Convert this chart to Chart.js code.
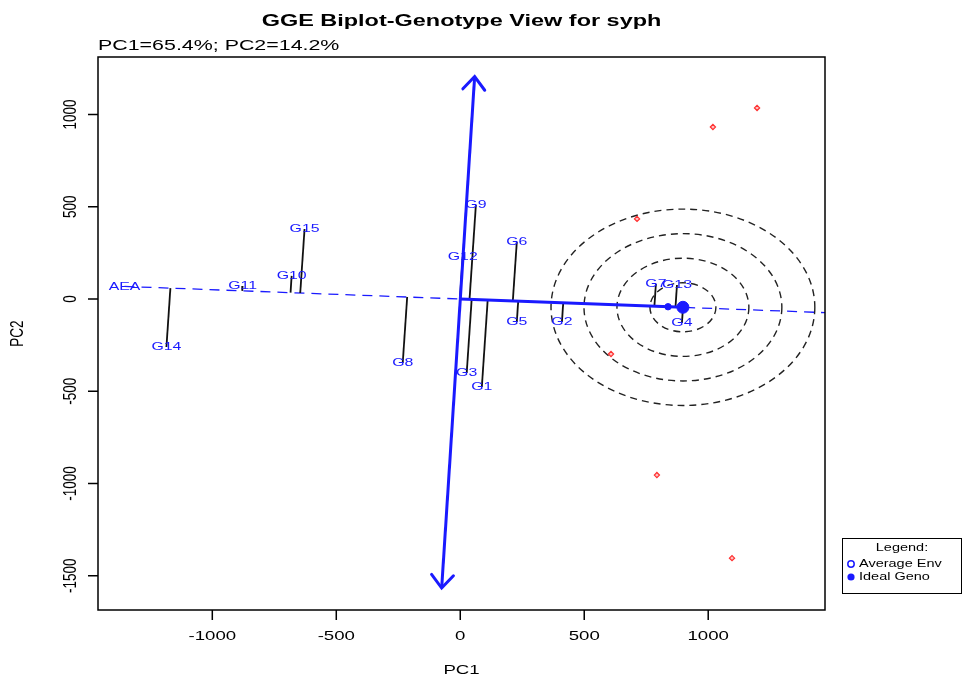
<!DOCTYPE html>
<html>
<head>
<meta charset="utf-8">
<script src="https://cdn.jsdelivr.net/npm/chart.js@4.4.1/dist/chart.umd.min.js"></script>
<style>
  html, body { margin: 0; padding: 0; background: #fff; }
  #wrap { width: 963px; height: 677px; }
</style>
</head>
<body>
<div id="wrap"><canvas id="biplot" width="963" height="677"></canvas></div>
<script>
// genotypes (label position = genotype score)
const genoNames = ['G1', 'G2', 'G3', 'G4', 'G5', 'G6', 'G7', 'G8', 'G9', 'G10', 'G11', 'G12', 'G13', 'G14', 'G15'];
const genoPC1 = [87, 410, 26, 894, 228, 228, 789, -232, 63, -680, -878, 10, 874, -1185, -628];
const genoPC2 = [-477, -125, -401, -130, -125, 309, 81, -347, 509, 125, 70, 228, 76, -260, 379];

// environments (small red markers)
const envPC1 = [1197, 1019, 713, 608, 793, 1096];
const envPC2 = [1035, 932, 434, -298, -954, -1404];

// average environment axis
const aeaPC1 = [-1354, 1471];
const aeaPC2 = [68, -74];
const avgEnv = [838, -42];
const idealGeno = [898, -45];
const circleRadii = [133, 266, 399, 532];

// axis perpendicular to AEA (double arrow)
const arrowPC1 = [-75, 58];
const arrowPC2 = [-1566, 1205];

const xTicks = [-1000, -500, 0, 500, 1000];
const yTicks = [1000, 500, 0, -500, -1000, -1500];

const SX = 1.38; // the picture is stretched sideways
const BLUE = '#1a1aff';
const FONT = '"Liberation Sans", Arial, sans-serif';

function txt(ctx, s, x, y, size, color, align, bold, rot) {
    ctx.save();
    ctx.translate(x, y);
    if (rot) { ctx.rotate(-Math.PI / 2); ctx.scale(1, SX); } else { ctx.scale(SX, 1); }
    ctx.font = (bold ? 'bold ' : '') + size + 'px ' + FONT;
    ctx.fillStyle = color;
    ctx.textAlign = align;
    ctx.textBaseline = 'middle';
    ctx.fillText(s, 0, 0);
    ctx.restore();
}

// projection of each genotype on the AEA line
const dLen = Math.hypot(idealGeno[0], idealGeno[1]);
const ux = idealGeno[0] / dLen, uy = idealGeno[1] / dLen;
const projSets = genoNames.map((g, i) => {
    const t = genoPC1[i] * ux + genoPC2[i] * uy;
    return {
        type: 'line',
        data: [{ x: genoPC1[i], y: genoPC2[i] }, { x: t * ux, y: t * uy }],
        borderColor: '#111', borderWidth: 1.8, pointRadius: 0, order: 6
    };
});

const extras = {
    id: 'extras',
    beforeDatasetsDraw(chart) {
        const { ctx, scales: { x, y } } = chart;
        const a = chart.chartArea;
        ctx.save();
        ctx.beginPath();
        ctx.rect(a.left, a.top, a.right - a.left, a.bottom - a.top);
        ctx.clip();
        ctx.strokeStyle = '#222';
        ctx.lineWidth = 1.4;
        ctx.setLineDash([7, 5]);
        const cx = x.getPixelForValue(idealGeno[0]);
        const cy = y.getPixelForValue(idealGeno[1]);
        circleRadii.forEach(r => {
            const rx = x.getPixelForValue(idealGeno[0] + r) - cx;
            const ry = cy - y.getPixelForValue(idealGeno[1] + r);
            ctx.beginPath();
            ctx.ellipse(cx, cy, rx, ry, 0, 0, Math.PI * 2);
            ctx.stroke();
        });
        ctx.restore();
    },
    afterDatasetsDraw(chart) {
        const { ctx, scales: { x, y } } = chart;
        const a = chart.chartArea;
        // arrow heads
        const pts = chart.getDatasetMeta(chart.data.datasets.findIndex(d => d.label === 'arrow')).data;
        ctx.save();
        ctx.strokeStyle = BLUE;
        ctx.lineWidth = 3;
        ctx.lineCap = 'round';
        [[pts[1], pts[0]], [pts[0], pts[1]]].forEach(([tip, from]) => {
            const ang = Math.atan2(from.y - tip.y, from.x - tip.x);
            ctx.beginPath();
            ctx.moveTo(tip.x + 17 * Math.cos(ang - 0.7), tip.y + 17 * Math.sin(ang - 0.7));
            ctx.lineTo(tip.x, tip.y);
            ctx.lineTo(tip.x + 17 * Math.cos(ang + 0.7), tip.y + 17 * Math.sin(ang + 0.7));
            ctx.stroke();
        });
        ctx.restore();

        // genotype labels
        genoNames.forEach((g, i) => {
            txt(ctx, g, x.getPixelForValue(genoPC1[i]), y.getPixelForValue(genoPC2[i]), 11.5, BLUE, 'center');
        });
        txt(ctx, 'AEA', x.getPixelForValue(aeaPC1[0]), y.getPixelForValue(aeaPC2[0]), 11.5, BLUE, 'center');

        // box, ticks, labels
        ctx.save();
        ctx.strokeStyle = '#000';
        ctx.lineWidth = 1.5;
        ctx.strokeRect(a.left, a.top, a.right - a.left, a.bottom - a.top);
        ctx.beginPath();
        xTicks.forEach(v => {
            const px = x.getPixelForValue(v);
            ctx.moveTo(px, a.bottom); ctx.lineTo(px, a.bottom + 10);
        });
        yTicks.forEach(v => {
            const py = y.getPixelForValue(v);
            ctx.moveTo(a.left, py); ctx.lineTo(a.left - 10, py);
        });
        ctx.stroke();
        ctx.restore();
        xTicks.forEach(v => txt(ctx, String(v), x.getPixelForValue(v), a.bottom + 26, 13.5, '#000', 'center'));
        yTicks.forEach(v => txt(ctx, String(v), a.left - 27, y.getPixelForValue(v), 13.5, '#000', 'center', false, true));
        txt(ctx, 'PC1', (a.left + a.right) / 2, 670, 13.5, '#000', 'center');
        txt(ctx, 'PC2', 18, (a.top + a.bottom) / 2, 13.5, '#000', 'center', false, true);

        // titles
        txt(ctx, 'GGE Biplot-Genotype View for syph', (a.left + a.right) / 2, 21, 17, '#000', 'center', true);
        txt(ctx, 'PC1=65.4%; PC2=14.2%', a.left, 46, 15.5, '#000', 'left');

        // legend
        ctx.save();
        ctx.fillStyle = '#fff';
        ctx.fillRect(842, 538, 119, 55);
        ctx.strokeStyle = '#000';
        ctx.lineWidth = 1;
        ctx.strokeRect(842.5, 538.5, 119, 55);
        ctx.strokeStyle = BLUE;
        ctx.fillStyle = BLUE;
        ctx.lineWidth = 1.5;
        ctx.beginPath(); ctx.arc(851, 564, 3.2, 0, Math.PI * 2); ctx.stroke();
        ctx.beginPath(); ctx.arc(851, 577, 3.6, 0, Math.PI * 2); ctx.fill();
        ctx.restore();
        txt(ctx, 'Legend:', 902, 548, 10.5, '#000', 'center');
        txt(ctx, 'Average Env', 859, 564, 10.5, '#000', 'left');
        txt(ctx, 'Ideal Geno', 859, 577, 10.5, '#000', 'left');
    }
};

new Chart(document.getElementById('biplot').getContext('2d'), {
    type: 'scatter',
    data: {
        datasets: [
            {
                label: 'ideal',
                data: [{ x: idealGeno[0], y: idealGeno[1] }],
                pointRadius: 6, backgroundColor: BLUE, borderColor: BLUE, order: 0
            },
            {
                label: 'avgEnv',
                data: [{ x: avgEnv[0], y: avgEnv[1] }],
                pointRadius: 3.2, backgroundColor: BLUE, borderColor: BLUE, order: 1
            },
            {
                label: 'aeaSolid',
                type: 'line',
                data: [{ x: 0, y: 0 }, { x: idealGeno[0], y: idealGeno[1] }],
                borderColor: BLUE, borderWidth: 3, pointRadius: 0, order: 2
            },
            {
                label: 'arrow',
                type: 'line',
                data: arrowPC1.map((v, i) => ({ x: v, y: arrowPC2[i] })),
                borderColor: BLUE, borderWidth: 3, pointRadius: 0, order: 3
            },
            {
                label: 'aea',
                type: 'line',
                data: aeaPC1.map((v, i) => ({ x: v, y: aeaPC2[i] })),
                borderColor: BLUE, borderWidth: 1.3, borderDash: [10, 7], pointRadius: 0, order: 7
            },
            {
                label: 'env',
                data: envPC1.map((v, i) => ({ x: v, y: envPC2[i] })),
                pointStyle: 'rectRot', pointRadius: 2.6, borderWidth: 1.2,
                borderColor: '#ff3030', backgroundColor: 'rgba(255,80,80,0.35)', order: 4
            },
            {
                label: 'geno',
                data: genoPC1.map((v, i) => ({ x: v, y: genoPC2[i] })),
                pointRadius: 0, order: 5
            },
            ...projSets
        ]
    },
    options: {
        responsive: false,
        animation: false,
        events: [],
        layout: { padding: { top: 57, right: 138, left: 0, bottom: 0 } },
        plugins: { legend: { display: false }, tooltip: { enabled: false }, title: { display: false } },
        scales: {
            x: {
                type: 'linear', min: -1461, max: 1471,
                grid: { display: false }, border: { display: false },
                ticks: { display: false },
                afterFit(s) { s.height = 67; }
            },
            y: {
                type: 'linear', min: -1685, max: 1311,
                grid: { display: false }, border: { display: false },
                ticks: { display: false },
                afterFit(s) { s.width = 98; }
            }
        }
    },
    plugins: [extras]
});
</script>
</body>
</html>
